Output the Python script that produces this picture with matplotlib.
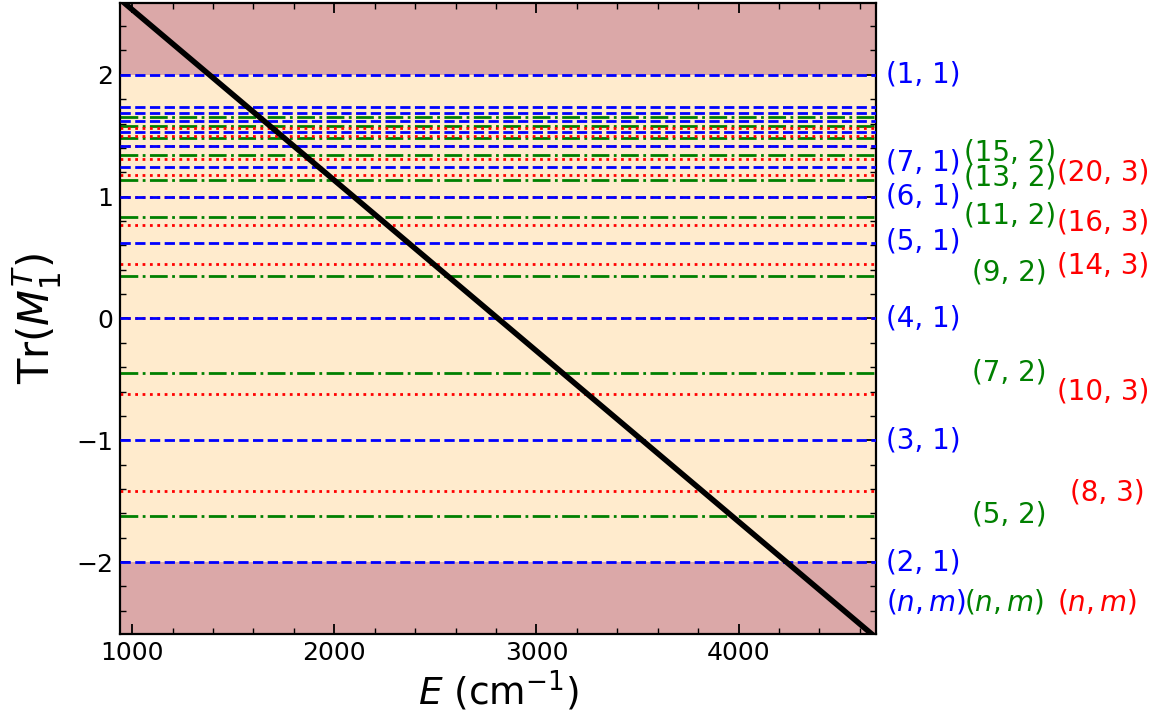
import matplotlib
matplotlib.use('Agg')
import matplotlib.pyplot as plt
from matplotlib.ticker import MultipleLocator

# trace values of the resonance lines
blue_levels = [2.0, -2.0, -1.0, 0.0, 0.618, 1.0, 1.247, 1.414, 1.532, 1.618, 1.683, 1.732]
green_levels = [-1.618, -0.445, 0.347, 0.831, 1.136, 1.338, 1.478, 1.578, 1.652]
red_levels = [-1.414, -0.618, 0.0, 0.445, 0.765, 1.0, 1.176, 1.310, 1.414, 1.497, 1.563]

# labels on the right: (text, y position)
blue_labels = ['(1, 1)', '(7, 1)', '(6, 1)', '(5, 1)', '(4, 1)', '(3, 1)', '(2, 1)', '$(n, m)$']
blue_label_y = [2.0, 1.279, 1.0, 0.631, 0.0, -1.0, -2.0, -2.33]
green_labels = ['(15, 2)', '(13, 2)', '(11, 2)', '(9, 2)', '(7, 2)', '(5, 2)', '$(n, m)$']
green_label_y = [1.361, 1.156, 0.844, 0.377, -0.443, -1.607, -2.33]
red_labels = ['(20, 3)', '(16, 3)', '(14, 3)', '(10, 3)', '(8, 3)', '$(n, m)$']
red_label_y = [1.197, 0.787, 0.434, -0.598, -1.426, -2.33]

# trace of the transfer matrix vs energy
energy = [940, 4680]
trace = [2.62, -2.62]

xlim = (940, 4680)
ylim = (-2.59, 2.59)

fig = plt.figure(figsize=(11.56, 7.24), dpi=100)
ax = fig.add_axes([0.1038, 0.1243, 0.654, 0.8716])

# stable / unstable bands
ax.axhspan(-2, 2, color='#ffebcd', zorder=0, lw=0)
ax.axhspan(2, ylim[1], color='#dba8a8', zorder=0, lw=0)
ax.axhspan(ylim[0], -2, color='#dba8a8', zorder=0, lw=0)

for v in green_levels:
    ax.axhline(v, color='green', ls='-.', lw=2, zorder=1)
for v in red_levels:
    ax.axhline(v, color='red', ls=':', lw=2, zorder=2)
for v in blue_levels:
    ax.axhline(v, color='blue', ls='--', lw=2, zorder=3)

ax.plot(energy, trace, color='black', lw=4, zorder=4)

ax.set_xlim(*xlim)
ax.set_ylim(*ylim)
ax.xaxis.set_major_locator(MultipleLocator(1000))
ax.xaxis.set_minor_locator(MultipleLocator(200))
ax.yaxis.set_major_locator(MultipleLocator(1))
ax.yaxis.set_minor_locator(MultipleLocator(0.2))
ax.tick_params(which='both', direction='in', top=True, right=True, labelsize=18)
ax.tick_params(which='major', length=7, width=1.3, pad=5)
ax.tick_params(which='minor', length=4, width=1.0)
for s in ax.spines.values():
    s.set_linewidth(1.6)

ax.set_xlabel('$E$ (cm$^{-1}$)', fontsize=27, labelpad=2)
ax.set_ylabel('Tr($M_1^T$)', fontsize=30, labelpad=9)

trans = ax.get_yaxis_transform()
for t, y in zip(blue_labels, blue_label_y):
    ax.text(1.013, y, t, color='blue', fontsize=20, va='center', ha='left',
            transform=trans, clip_on=False)
for t, y in zip(green_labels, green_label_y):
    xo = 1.127 if t in ('(9, 2)', '(7, 2)', '(5, 2)') else 1.117
    ax.text(xo, y, t, color='green', fontsize=20, va='center', ha='left',
            transform=trans, clip_on=False)
for t, y in zip(red_labels, red_label_y):
    xo = 1.256 if t == '(8, 3)' else 1.24
    ax.text(xo, y, t, color='red', fontsize=20, va='center', ha='left',
            transform=trans, clip_on=False)

fig.savefig('out.png', dpi=100)
